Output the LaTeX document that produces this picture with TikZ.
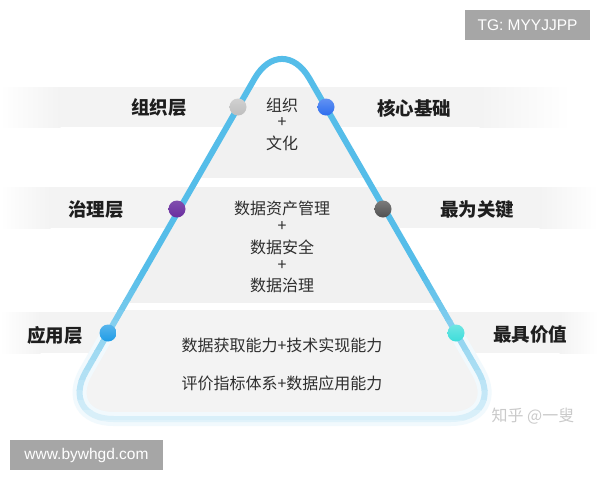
\documentclass[tikz,border=0pt]{standalone}
\usepackage{fontspec}
\newfontfamily\cjk{Noto Sans CJK SC}
\newfontfamily\lat{Liberation Sans}
\definecolor{bandgray}{HTML}{F3F3F3}
\definecolor{tiergray}{HTML}{F1F1F1}
\definecolor{tiergrayb}{HTML}{F3F3F3}
\definecolor{lineblue}{HTML}{55BDE9}
\definecolor{linepale}{HTML}{E0F2FA}
\definecolor{glowcol}{HTML}{F1F9FD}
\definecolor{labcol}{HTML}{1E1E1E}
\definecolor{textcol}{HTML}{2E2E2E}
\definecolor{zhgray}{HTML}{CACACA}
\definecolor{wmgray}{HTML}{A6A6A6}
\definecolor{dgray}{HTML}{BDBDBD}
\definecolor{dblue}{HTML}{2D6DEE}
\definecolor{dpurple}{HTML}{6A2E9F}
\definecolor{ddark}{HTML}{505050}
\definecolor{dsky}{HTML}{1F9CE6}
\definecolor{dcyan}{HTML}{3EDDDA}
\def\tri{(282,419) -- (58.6,419) -- (282,31) -- (505.6,419) -- cycle}
\begin{document}
\begin{tikzpicture}[x=1pt,y=-1pt,
  lab/.style={font=\cjk\bfseries\fontsize{18.5}{20}\selectfont, text=labcol, inner sep=0pt},
  inn/.style={font=\cjk\fontsize{16}{18}\selectfont, text=textcol, inner sep=0pt},
  dotnode/.style={circle, inner sep=0pt, minimum size=17pt},
  wm/.style={fill=wmgray, text=white, font=\lat\fontsize{15.5}{17}\selectfont, inner sep=0pt, minimum height=30pt},
  outline/.style={rounded corners=55pt}]
\useasboundingbox (0,0) rectangle (600,480);
\fill[white] (0,0) rectangle (600,480);
% bands outside
\fill[bandgray] (60,87) rectangle (480,127);
\shade[left color=white,right color=bandgray] (0,87) rectangle (60.5,127);
\shade[left color=bandgray,right color=white] (479.5,87) rectangle (570,127);
\fill[bandgray] (50,187) rectangle (540,228);
\shade[left color=white,right color=bandgray] (0,187) rectangle (50.5,228);
\shade[left color=bandgray,right color=white] (539.5,187) rectangle (598,228);
\fill[bandgray] (40,312) rectangle (560,353);
\shade[left color=white,right color=bandgray] (0,312) rectangle (40.5,353);
\shade[left color=bandgray,right color=white] (559.5,312) rectangle (598,353);
% tiers inside
\begin{scope}
\clip[outline] \tri;
\fill[tiergray] (0,87) rectangle (600,178);
\fill[tiergray] (0,187) rectangle (600,303);
\fill[tiergrayb] (0,310) rectangle (600,430);
\end{scope}
% glow
\begin{scope}
\clip (0,330) rectangle (600,440);
\draw[outline, line width=14pt, glowcol] \tri;
\end{scope}
% outline, stepped gradient
\begin{scope}
\clip (0,0) rectangle (600,270.5);
\draw[outline, line width=6pt, lineblue] \tri;
\end{scope}
\foreach \k in {0,...,15}{
  \pgfmathsetmacro\ya{270+10*\k}
  \pgfmathsetmacro\yb{\ya+10.5}
  \pgfmathtruncatemacro\pc{100-100*\k/15}
  \begin{scope}
  \clip (0,\ya) rectangle (600,\yb);
  \draw[outline, line width=6pt, lineblue!\pc!linepale] \tri;
  \end{scope}
}
% dots
\node[dotnode, top color=dgray!70!white, bottom color=dgray] (d1) at (238,107) {};
\node[dotnode, top color=dblue!75!white, bottom color=dblue] (d2) at (326,107) {};
\node[dotnode, top color=dpurple!85!white, bottom color=dpurple] (d3) at (177,209) {};
\node[dotnode, top color=ddark!75!white, bottom color=ddark] (d4) at (383,209) {};
\node[dotnode, top color=dsky!75!white, bottom color=dsky] (d5) at (108,333) {};
\node[dotnode, top color=dcyan!75!white, bottom color=dcyan] (d6) at (456,333) {};
% side labels
\node[lab] (l1) at (159,108) {组织层};
\node[lab] (r1) at (414,108) {核心基础};
\node[lab] (l2) at (96,210) {治理层};
\node[lab] (r2) at (477,210) {最为关键};
\node[lab] (l3) at (55,335) {应用层};
\node[lab] (r3) at (530,335) {最具价值};
% inner texts
\node[inn] (t1) at (282,105) {组织};
\node[inn] (t2) at (282,123) {+};
\node[inn] (t3) at (282,143) {文化};
\node[inn] (m1) at (282,208) {数据资产管理};
\node[inn] (m2) at (282,227) {+};
\node[inn] (m3) at (282,247) {数据安全};
\node[inn] (m4) at (282,266) {+};
\node[inn] (m5) at (282,285) {数据治理};
\node[inn] (b1) at (282,345) {数据获取能力+技术实现能力};
\node[inn] (b2) at (282,383) {评价指标体系+数据应用能力};
% watermarks
\node[font=\cjk\fontsize{16}{18}\selectfont, text=zhgray, inner sep=0pt] (zh) at (533,416) {知乎 @一叟};
\node[wm, minimum width=125pt] (tg) at (527.5,25) {TG: MYYJJPP};
\node[wm, minimum width=153pt] (www) at (86.5,455) {www.bywhgd.com};
\end{tikzpicture}
\end{document}
